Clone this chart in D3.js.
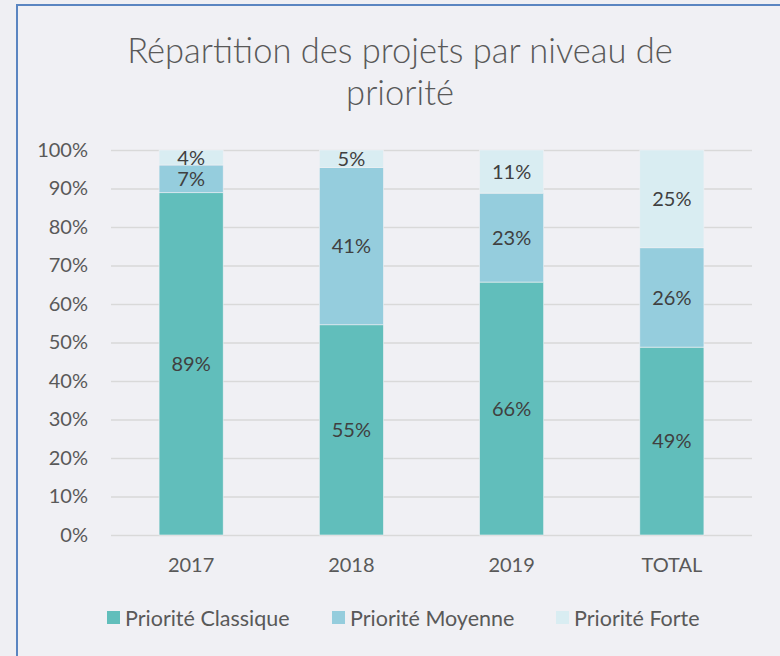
<!DOCTYPE html>
<html>
<head>
<meta charset="utf-8">
<script src="https://cdn.jsdelivr.net/npm/d3@7"></script>
<style>
  body { margin: 0; background: #efeff3; }
  svg { display: block; font-family: Lato, "Open Sans", sans-serif; }
</style>
</head>
<body>
<div id="chart"></div>
<script>
// chart values (percent of projects per year)
var categories = ["2017", "2018", "2019", "TOTAL"];
var seriesNames = ["Priorité Classique", "Priorité Moyenne", "Priorité Forte"];
var classique = [88.9, 54.6, 65.7, 48.8];
var moyenne = [7.2, 40.8, 23.1, 25.8];
var forte = [3.9, 4.6, 11.2, 25.4];
var yTicks = [0, 10, 20, 30, 40, 50, 60, 70, 80, 90, 100];
var colors = ["#61bebb", "#95cddd", "#d9edf2"];

var width = 780, height = 656;
var plotLeft = 111, plotRight = 752, plotTop = 150, plotBottom = 535;

// table for the stack layout
var rows = categories.map(function (c, i) {
    var r = { cat: c };
    r[seriesNames[0]] = classique[i];
    r[seriesNames[1]] = moyenne[i];
    r[seriesNames[2]] = forte[i];
    return r;
});

var svg = d3.select("#chart")
    .append("svg")
    .attr("width", width)
    .attr("height", height);

// background + frame
svg.append("rect")
    .attr("width", width)
    .attr("height", height)
    .attr("fill", "#efeff3");

svg.append("rect")
    .attr("x", 17)
    .attr("y", 5)
    .attr("width", 800)
    .attr("height", 700)
    .attr("fill", "#f0f0f4")
    .attr("stroke", "#5a85c1")
    .attr("stroke-width", 2);

// title
svg.append("text")
    .attr("x", 400)
    .attr("text-anchor", "middle")
    .style("font-size", "34.5px")
    .style("font-weight", 300)
    .style("fill", "#595959")
    .selectAll("tspan")
    .data(["Répartition des projets par niveau de", "priorité"])
    .enter()
    .append("tspan")
    .attr("x", 400)
    .attr("y", function (d, i) { return 63 + i * 42; })
    .text(function (d) { return d; });

var x = d3.scaleBand()
    .domain(categories)
    .range([plotLeft, plotRight])
    .paddingInner(0.6)
    .paddingOuter(0.3);

var y = d3.scaleLinear()
    .domain([0, 100])
    .range([plotBottom, plotTop]);

var color = d3.scaleOrdinal()
    .domain(seriesNames)
    .range(colors);

// gridlines
svg.append("g")
    .attr("transform", "translate(" + plotLeft + ",0)")
    .call(d3.axisLeft(y).tickValues(yTicks).tickSize(-(plotRight - plotLeft)).tickFormat(""))
    .call(function (g) { g.select(".domain").remove(); })
    .selectAll("line")
    .attr("stroke", "#d9d9d9")
    .attr("stroke-width", 1.5);

// y axis labels
svg.append("g")
    .attr("transform", "translate(" + plotLeft + ",0)")
    .call(d3.axisLeft(y).tickValues(yTicks).tickSize(0).tickPadding(23)
        .tickFormat(function (d) { return d + "%"; }))
    .call(function (g) { g.select(".domain").remove(); })
    .selectAll("text")
    .style("font-size", "20px")
    .style("font-family", "Lato, sans-serif")
    .attr("fill", "#595959");

// x axis labels
svg.append("g")
    .attr("transform", "translate(0," + plotBottom + ")")
    .call(d3.axisBottom(x).tickSize(0).tickPadding(23))
    .call(function (g) { g.select(".domain").remove(); })
    .selectAll("text")
    .style("font-size", "20px")
    .style("font-family", "Lato, sans-serif")
    .attr("fill", "#595959");

// stacked bars
var stacked = d3.stack().keys(seriesNames)(rows);

var layers = svg.selectAll("g.layer")
    .data(stacked)
    .enter()
    .append("g")
    .attr("class", "layer")
    .attr("fill", function (d) { return color(d.key); });

layers.selectAll("rect")
    .data(function (d) { return d; })
    .enter()
    .append("rect")
    .attr("x", function (d) { return x(d.data.cat); })
    .attr("y", function (d) { return y(d[1]); })
    .attr("width", x.bandwidth())
    .attr("height", function (d) { return y(d[0]) - y(d[1]); })
    .attr("stroke", "#f0f0f4")
    .attr("stroke-width", 0.6);

// segment labels
layers.selectAll("text")
    .data(function (d) { return d; })
    .enter()
    .append("text")
    .attr("x", function (d) { return x(d.data.cat) + x.bandwidth() / 2; })
    .attr("y", function (d) { return (y(d[0]) + y(d[1])) / 2; })
    .attr("dy", "0.36em")
    .attr("text-anchor", "middle")
    .style("font-size", "20px")
    .style("fill", "#404040")
    .text(function (d) { return Math.round(d[1] - d[0]) + "%"; });

// legend
var legendX = [107, 332, 556];
var legend = svg.selectAll("g.legend")
    .data(seriesNames)
    .enter()
    .append("g")
    .attr("class", "legend")
    .attr("transform", function (d, i) { return "translate(" + legendX[i] + ",618)"; });

legend.append("rect")
    .attr("x", 0)
    .attr("y", -7)
    .attr("width", 13)
    .attr("height", 13)
    .attr("fill", function (d) { return color(d); });

legend.append("text")
    .attr("x", 18)
    .attr("dy", "0.35em")
    .style("font-size", "21.5px")
    .style("fill", "#595959")
    .text(function (d) { return d; });
</script>
</body>
</html>
